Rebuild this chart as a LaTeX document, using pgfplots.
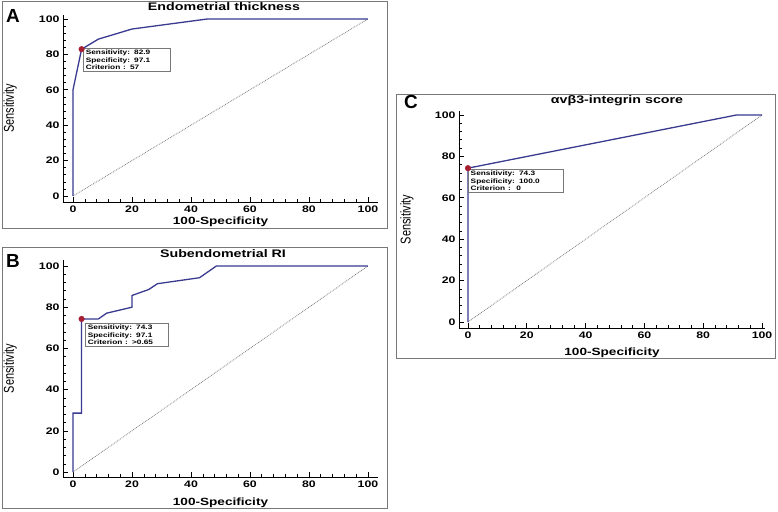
\documentclass[border=0pt]{standalone}
\usepackage{fontspec}
\setmainfont{Liberation Sans}
\usepackage{graphicx}
\usepackage{pgfplots}
\pgfplotsset{compat=1.18}

\definecolor{roc}{RGB}{58,58,145}
\definecolor{cut}{RGB}{165,30,50}
\definecolor{frame}{RGB}{120,120,120}
\definecolor{diag}{RGB}{125,125,125}

\newcommand{\wide}[1]{\scalebox{1.3}[1]{#1}}

\pgfplotsset{
  rocpanel/.style={
    scale only axis,
    anchor=south west,
    axis x line*=bottom, axis y line*=left,
    axis line style={black, line width=0.8pt},
    xtick={0,20,...,100}, ytick={0,20,...,100},
    minor tick num=4,
    tick align=inside,
    major tick length=5bp, minor tick length=3bp,
    tick style={black, line width=0.6pt},
    /pgf/number format/assume math mode=true,
    ticklabel style={font=\fontsize{9.5}{10}\selectfont\bfseries},
    xticklabel={\wide{\pgfmathprintnumber{\tick}}},
    yticklabel={\wide{\pgfmathprintnumber{\tick}}},
    xlabel={\wide{\bfseries 100-Specificity}},
    ylabel={\scalebox{1}[1.3]{Sensitivity}},
    xlabel style={font=\fontsize{10.5}{12}\selectfont, anchor=center},
    ylabel style={font=\fontsize{11}{12}\selectfont, anchor=center,
      at={(axis description cs:-0.168,0.5)}},
    clip=false,
  },
  rocline/.style={roc, line width=1.3pt},
  chance/.style={diag, densely dotted, line width=0.8pt},
  cutoff/.style={only marks, mark=*, mark size=2.8bp, cut},
}
\tikzset{
  infobox/.style={draw=frame, fill=white, line width=0.5pt, align=left,
    font=\fontsize{6.4}{7.8}\selectfont\bfseries, inner xsep=2.5bp, inner ysep=1.5bp},
  ptitle/.style={font=\fontsize{11}{12}\selectfont\bfseries},
  pletter/.style={font=\fontsize{19}{19}\selectfont\bfseries},
}

\begin{document}
\begin{tikzpicture}
  \fill[white] (0,0) rectangle (778bp,-512bp);
  \path[use as bounding box] (0,0) rectangle (778bp,-512bp);

  % panel frames
  \draw[frame, line width=0.6pt] (2bp,-1bp) rectangle (387bp,-228bp);
  \draw[frame, line width=0.6pt] (2bp,-247bp) rectangle (387bp,-508bp);
  \draw[frame, line width=0.6pt] (396bp,-94bp) rectangle (775bp,-358bp);

  % A: endometrial thickness
  \begin{axis}[rocpanel, at={(63bp,-202bp)}, width=315bp, height=187.5bp,
    xmin=-3.4, xmax=103.4, ymin=-3.4, ymax=102.5,
    xlabel style={at={(axis description cs:0.5,-0.107)}}]
    \addplot[chance] coordinates {(0,0) (100,100)};
    \addplot[rocline] coordinates {
      (0,0) (0,60) (2.9,82.9) (8.6,88.6) (20,94.3) (45.7,100) (100,100)};
    \addplot[cutoff] coordinates {(2.9,82.9)};
    \node[infobox, anchor=north west, text width=82bp] at (axis cs:3.4,83.6)
      {\wide{Sensitivity: 82.9}\\ \wide{Specificity: 97.1}\\ \wide{Criterion : 57}};
  \end{axis}

  % B: subendometrial RI
  \begin{axis}[rocpanel, at={(63bp,-477bp)}, width=315bp, height=217bp,
    xmin=-3.4, xmax=103.4, ymin=-2.4, ymax=102.9,
    xlabel style={at={(axis description cs:0.5,-0.12)}}]
    \addplot[chance] coordinates {(0,0) (100,100)};
    \addplot[rocline] coordinates {
      (0,0) (0,28.6) (2.9,28.6) (2.9,74.3) (8.6,74.3) (11.4,77.1) (20,80)
      (20,85.7) (25.7,88.6) (28.6,91.4) (42.9,94.3) (48.6,100) (100,100)};
    \addplot[cutoff] coordinates {(2.9,74.3)};
    \node[infobox, anchor=north west, text width=78bp] at (axis cs:4.1,72.3)
      {\wide{Sensitivity: 74.3}\\ \wide{Specificity: 97.1}\\ \wide{Criterion : >0.65}};
  \end{axis}

  % C: avb3-integrin score
  \begin{axis}[rocpanel, at={(459bp,-328bp)}, width=306bp, height=217bp,
    xmin=-3.05, xmax=101, ymin=-2.9, ymax=101.9,
    xlabel style={at={(axis description cs:0.5,-0.115)}},
    ylabel style={at={(axis description cs:-0.17,0.5)}}]
    \addplot[chance] coordinates {(0,0) (100,100)};
    \addplot[rocline] coordinates {(0,0) (0,74.3) (91.4,100) (100,100)};
    \addplot[cutoff] coordinates {(0,74.3)};
    \node[infobox, anchor=north west, text width=90bp] at (axis cs:0,73.9)
      {\wide{Sensitivity: 74.3}\\ \wide{Specificity: 100.0}\\ \wide{Criterion :\ \ 0}};
  \end{axis}

  % titles and panel letters
  \node[ptitle] at (224bp,-7bp) {\wide{Endometrial thickness}};
  \node[ptitle] at (223bp,-254bp) {\wide{Subendometrial RI}};
  \node[ptitle] at (617bp,-101bp) {\wide{αvβ3-integrin score}};
  \node[pletter] at (13bp,-15.5bp) {A};
  \node[pletter] at (13bp,-261bp) {B};
  \node[pletter] at (411bp,-102bp) {C};
\end{tikzpicture}
\end{document}
